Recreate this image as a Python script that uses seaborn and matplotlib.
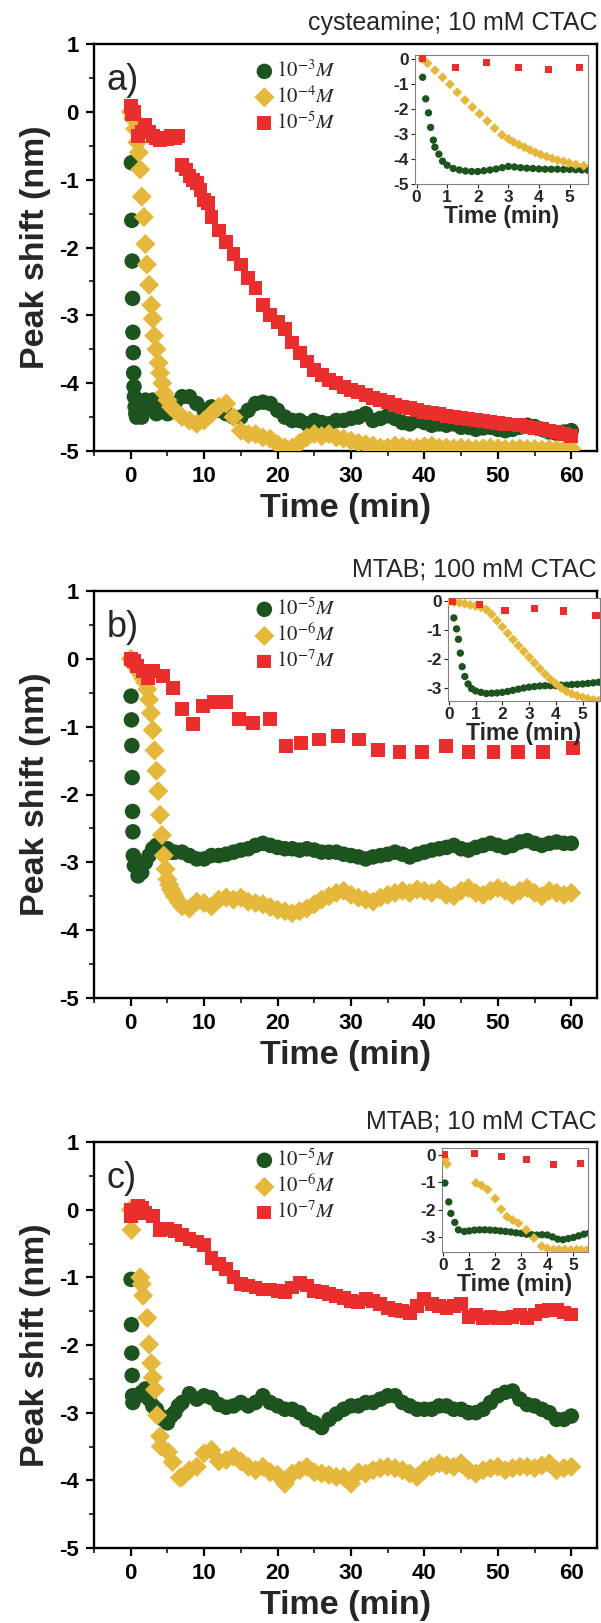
import numpy as np
import pandas as pd
import matplotlib
matplotlib.use("Agg")
import matplotlib.pyplot as plt
from matplotlib.ticker import MultipleLocator
import seaborn as sns

# ---------------------------------------------------------------- data
# Panel a: cysteamine; 10 mM CTAC
a_green_t = [0.1, 0.15, 0.2, 0.25, 0.3, 0.35, 0.4, 0.45, 0.5, 0.6, 0.7, 0.8, 0.9, 1.0, 1.5, 2.0, 2.5,
             3.0, 3.5, 4.0, 4.5, 5.0, 5.5, 6.0] + list(range(7, 61))
a_green_y = [-0.75, -1.6, -2.2, -2.75, -3.25, -3.55, -3.85, -4.05, -4.2, -4.35, -4.45, -4.5, -4.45,
             -4.4, -4.5, -4.25, -4.35, -4.25, -4.45, -4.4, -4.3, -4.45, -4.35, -4.3,
             -4.2, -4.2, -4.3, -4.4, -4.35, -4.4, -4.45, -4.5, -4.5, -4.4, -4.3, -4.28, -4.3, -4.4,
             -4.5, -4.55, -4.55, -4.6, -4.55, -4.58, -4.6, -4.55, -4.55, -4.52, -4.5, -4.45, -4.55,
             -4.52, -4.48, -4.52, -4.58, -4.6, -4.55, -4.58, -4.62, -4.6, -4.62, -4.6, -4.65, -4.65,
             -4.68, -4.66, -4.65, -4.68, -4.7, -4.68, -4.65, -4.62, -4.64, -4.68, -4.72, -4.74,
             -4.72, -4.7]
a_yellow_t = [0.0, 0.3, 0.6, 0.9, 1.1, 1.3, 1.5, 1.8, 2.0, 2.2, 2.5, 2.8, 3.0, 3.2, 3.5, 3.8, 4.0,
              4.3, 4.6, 5.0, 5.5, 6.0] + list(range(7, 61))
a_yellow_y = [0.0, -0.1, -0.25, -0.45, -0.6, -0.85, -1.25, -1.55, -1.95, -2.25, -2.55, -2.85, -3.05,
              -3.3, -3.5, -3.7, -3.85, -4.0, -4.15, -4.25, -4.35, -4.4,
              -4.5, -4.55, -4.6, -4.55, -4.45, -4.35, -4.3, -4.5, -4.7, -4.75, -4.75, -4.8, -4.82,
              -4.9, -4.95, -4.95, -4.88, -4.8, -4.75, -4.78, -4.75, -4.8, -4.82, -4.85, -4.88, -4.9,
              -4.92, -4.95, -4.95, -4.92, -4.93, -4.95, -4.95, -4.93, -4.92, -4.95, -4.95, -4.96,
              -4.95, -4.96, -4.97, -4.96, -4.95, -4.96, -4.97, -4.97, -4.96, -4.97, -4.97, -4.98,
              -4.97, -4.98, -4.98, -4.97]
a_red_t = [0.0, 0.1, 0.5, 1.0, 1.5, 2.0, 2.5, 3.0, 3.5, 4.0, 4.5, 5.0, 5.5, 6.0, 6.5, 7.0, 7.5, 8.0,
           8.5, 9.0, 9.5, 10.0, 10.5, 11.0] + list(range(12, 61))
a_red_y = [0.08, -0.03, 0.0, -0.35, -0.3, -0.2, -0.3, -0.35, -0.38, -0.42, -0.38, -0.4, -0.36, -0.38,
           -0.35, -0.78, -0.85, -0.95, -1.0, -1.05, -1.15, -1.3, -1.35, -1.55,
           -1.75, -1.92, -2.1, -2.25, -2.45, -2.6, -2.85, -3.0, -3.1, -3.2, -3.4, -3.55, -3.68,
           -3.8, -3.88, -3.95, -4.0, -4.05, -4.1, -4.13, -4.18, -4.22, -4.25, -4.28, -4.32, -4.35,
           -4.37, -4.4, -4.42, -4.44, -4.46, -4.48, -4.5, -4.52, -4.53, -4.54, -4.56, -4.57,
           -4.59, -4.6, -4.61, -4.62, -4.64, -4.66, -4.68, -4.7, -4.72, -4.75, -4.78]

# Panel a inset (first minutes)
ai_green_t = [0.2, 0.3, 0.39, 0.46, 0.55, 0.6, 0.73, 0.85, 1.0, 1.2, 1.4, 1.6, 1.8, 2.0, 2.2, 2.4,
              2.6, 2.8, 3.0, 3.2, 3.4, 3.6, 3.8, 4.0, 4.2, 4.4, 4.6, 4.8, 5.0, 5.2, 5.4, 5.6]
ai_green_y = [-0.74, -1.6, -2.16, -2.74, -3.25, -3.53, -3.81, -4.09, -4.25, -4.38, -4.44, -4.48,
              -4.5, -4.5, -4.47, -4.44, -4.4, -4.35, -4.3, -4.32, -4.35, -4.37, -4.38, -4.4,
              -4.41, -4.41, -4.41, -4.42, -4.42, -4.43, -4.44, -4.45]
ai_yellow_t = [0.18, 0.36, 0.6, 0.85, 1.09, 1.33, 1.58, 1.82, 2.06, 2.31, 2.55, 2.79, 3.0, 3.16,
               3.34, 3.52, 3.7, 3.88, 4.06, 4.25, 4.43, 4.61, 4.8, 4.98, 5.2, 5.46]
ai_yellow_y = [0.0, -0.18, -0.46, -0.74, -1.02, -1.34, -1.65, -1.93, -2.2, -2.49, -2.77, -3.04,
               -3.2, -3.32, -3.43, -3.53, -3.64, -3.74, -3.83, -3.91, -3.98, -4.05, -4.1, -4.16,
               -4.22, -4.27]
ai_red_t = [0.2, 1.27, 2.3, 3.34, 4.31, 5.32]
ai_red_y = [0.03, -0.35, -0.14, -0.36, -0.43, -0.36]

# Panel b: MTAB; 100 mM CTAC
b_green_t = [0.05, 0.1, 0.15, 0.2, 0.25, 0.3, 0.35, 0.5, 1.0, 1.5, 2.0, 2.5, 3.0, 3.5, 4.0, 4.5,
             5.0, 5.5, 6.0] + list(range(7, 61))
b_green_y = [-0.55, -0.9, -1.28, -1.75, -2.25, -2.55, -2.9, -3.05, -3.2, -3.15, -3.0, -2.9, -2.8,
             -2.75, -2.75, -2.8, -2.8, -2.85, -2.85,
             -2.85, -2.9, -2.95, -2.95, -2.9, -2.9, -2.88, -2.85, -2.82, -2.8, -2.75, -2.72, -2.75,
             -2.78, -2.8, -2.8, -2.82, -2.8, -2.82, -2.85, -2.85, -2.85, -2.88, -2.9, -2.92, -2.95,
             -2.92, -2.9, -2.88, -2.85, -2.88, -2.92, -2.88, -2.85, -2.82, -2.8, -2.78, -2.75,
             -2.8, -2.82, -2.78, -2.75, -2.72, -2.75, -2.78, -2.75, -2.7, -2.68, -2.72, -2.75,
             -2.72, -2.7, -2.72, -2.72]
b_yellow_t = [0.0, 0.25, 0.5, 0.75, 1.0, 1.25, 1.5, 1.75, 2.0, 2.25, 2.5, 2.75, 3.0, 3.25, 3.5,
              3.75, 4.0, 4.25, 4.5, 4.75, 5.0, 5.25, 5.5, 5.75, 6.0, 6.5] + list(range(7, 61))
b_yellow_y = [0.0, -0.05, -0.1, -0.12, -0.15, -0.2, -0.25, -0.3, -0.35, -0.45, -0.6, -0.8, -1.05,
              -1.35, -1.65, -1.95, -2.3, -2.6, -2.9, -3.1, -3.25, -3.33, -3.4, -3.45, -3.5, -3.58,
              -3.65, -3.68, -3.58, -3.6, -3.65, -3.55, -3.52, -3.55, -3.52, -3.58, -3.6, -3.62,
              -3.66, -3.7, -3.72, -3.75, -3.72, -3.68, -3.62, -3.55, -3.5, -3.45, -3.42, -3.48,
              -3.52, -3.55, -3.58, -3.52, -3.48, -3.45, -3.42, -3.45, -3.4, -3.42, -3.45, -3.4,
              -3.48, -3.5, -3.42, -3.38, -3.45, -3.48, -3.42, -3.38, -3.42, -3.48, -3.42, -3.38,
              -3.45, -3.5, -3.42, -3.45, -3.48, -3.45]
b_red_t = [0.0, 0.4, 0.9, 1.7, 2.3, 3.0, 4.35, 5.7, 7.0, 8.5, 9.9, 11.4, 13.0, 14.8, 16.7, 19.0,
           21.1, 23.2, 25.6, 28.2, 31.1, 33.7, 36.6, 39.7, 42.9, 46.0, 49.4, 52.8, 56.2, 60.2]
b_red_y = [0.0, -0.03, -0.1, -0.18, -0.28, -0.18, -0.25, -0.43, -0.74, -0.96, -0.69, -0.63, -0.63,
           -0.89, -0.94, -0.89, -1.29, -1.24, -1.19, -1.14, -1.19, -1.35, -1.37, -1.37, -1.29,
           -1.37, -1.37, -1.37, -1.37, -1.32]

# Panel b inset
bi_green_t = [0.19, 0.29, 0.36, 0.43, 0.5, 0.6, 0.72, 0.85, 1.0, 1.2, 1.4, 1.6, 1.8, 2.0, 2.2, 2.4,
              2.6, 2.8, 3.0, 3.2, 3.4, 3.6, 3.8, 4.0, 4.2, 4.4, 4.6, 4.8, 5.0, 5.2, 5.4, 5.6]
bi_green_y = [-0.57, -0.95, -1.31, -1.79, -2.26, -2.6, -2.86, -3.02, -3.1, -3.15, -3.19, -3.18,
              -3.17, -3.15, -3.12, -3.08, -3.04, -3.0, -2.97, -2.95, -2.93, -2.92, -2.92, -2.92,
              -2.9, -2.9, -2.88, -2.87, -2.86, -2.84, -2.82, -2.8]
bi_yellow_t = [0.0, 0.2, 0.4, 0.6, 0.8, 1.0, 1.2, 1.4, 1.6, 1.8, 2.0, 2.2, 2.4, 2.6, 2.8, 3.0, 3.2,
               3.4, 3.6, 3.8, 4.0, 4.2, 4.4, 4.6, 4.8, 5.0, 5.2, 5.4, 5.6]
bi_yellow_y = [0.0, -0.03, -0.05, -0.08, -0.12, -0.16, -0.2, -0.28, -0.45, -0.66, -0.88, -1.1,
               -1.32, -1.53, -1.73, -1.93, -2.13, -2.33, -2.52, -2.7, -2.85, -3.0, -3.12, -3.2,
               -3.27, -3.32, -3.37, -3.41, -3.44]
bi_red_t = [0.14, 1.16, 2.1, 3.19, 4.28, 5.5]
bi_red_y = [0.0, -0.12, -0.3, -0.24, -0.33, -0.48]

# Panel c: MTAB; 10 mM CTAC
c_green_t = [0.05, 0.1, 0.15, 0.2, 0.25, 0.3, 0.6, 1.0, 1.5, 2.0, 2.5, 3.0, 3.5, 4.0, 4.5, 5.0, 5.5,
             6.0, 6.5] + list(range(7, 61))
c_green_y = [-1.03, -1.7, -2.12, -2.45, -2.75, -2.85, -2.75, -2.75, -2.7, -2.65, -2.8, -2.9, -2.95,
             -3.05, -3.1, -3.15, -3.05, -3.0, -2.9,
             -2.85, -2.72, -2.8, -2.75, -2.78, -2.88, -2.92, -2.9, -2.85, -2.9, -2.85, -2.75,
             -2.85, -2.9, -2.95, -2.95, -3.0, -3.1, -3.15, -3.22, -3.1, -3.02, -2.95, -2.9, -2.9,
             -2.85, -2.85, -2.8, -2.75, -2.75, -2.85, -2.9, -2.95, -2.95, -2.95, -2.9, -2.9,
             -2.95, -2.95, -3.0, -3.0, -2.95, -2.85, -2.75, -2.7, -2.68, -2.8, -2.88, -2.9,
             -2.95, -3.0, -3.1, -3.1, -3.05]
c_yellow_t = [0.0, 0.1, 1.3, 1.5, 1.7, 2.25, 2.5, 2.8, 3.0, 3.3, 3.6, 4.0, 4.1, 5.1, 5.7,
              6.7] + list(range(7, 61))
c_yellow_y = [0.0, -0.3, -1.0, -1.1, -1.27, -1.6, -1.99, -2.27, -2.48, -2.66, -3.04, -3.35, -3.5,
              -3.58, -3.73, -3.96,
              -3.95, -3.85, -3.8, -3.6, -3.55, -3.72, -3.7, -3.65, -3.72, -3.8, -3.85, -3.8, -3.88,
              -3.92, -4.05, -3.9, -3.85, -3.8, -3.88, -3.9, -3.92, -3.95, -3.95, -4.05, -3.88,
              -3.9, -3.85, -3.82, -3.8, -3.82, -3.85, -3.9, -3.95, -3.85, -3.8, -3.75, -3.78,
              -3.8, -3.75, -3.85, -3.9, -3.85, -3.82, -3.8, -3.85, -3.82, -3.8, -3.8, -3.82,
              -3.78, -3.75, -3.85, -3.82, -3.8]
c_red_t = [0.0, 0.05, 0.5, 1.0, 1.5, 2.0, 3.0] + list(range(4, 61))
c_red_y = [0.0, -0.1, 0.0, 0.05, 0.02, -0.05, -0.1,
           -0.3, -0.28, -0.32, -0.38, -0.43, -0.47, -0.52, -0.72, -0.8, -0.88, -1.0, -1.1,
           -1.12, -1.15, -1.18, -1.18, -1.2, -1.22, -1.15, -1.08, -1.12, -1.2, -1.22, -1.25,
           -1.28, -1.3, -1.35, -1.37, -1.32, -1.35, -1.4, -1.45, -1.48, -1.5, -1.53, -1.42,
           -1.32, -1.4, -1.43, -1.45, -1.42, -1.4, -1.58, -1.55, -1.6, -1.58, -1.6, -1.6,
           -1.58, -1.55, -1.6, -1.55, -1.5, -1.48, -1.48, -1.52, -1.55]

# Panel c inset
ci_green_t = [0.07, 0.22, 0.3, 0.45, 0.59, 0.82, 1.0, 1.2, 1.4, 1.6, 1.8, 2.0, 2.2, 2.4, 2.6, 2.8,
              3.0, 3.2, 3.4, 3.6, 3.8, 4.0, 4.2, 4.4, 4.6, 4.8, 5.0, 5.2, 5.4, 5.6]
ci_green_y = [-1.03, -1.72, -2.14, -2.47, -2.74, -2.8, -2.78, -2.75, -2.74, -2.74, -2.75, -2.76,
              -2.78, -2.8, -2.82, -2.85, -2.87, -2.9, -2.92, -2.93, -2.92, -2.93, -3.0, -3.08,
              -3.1, -3.06, -3.02, -2.96, -2.9, -2.86]
ci_yellow_t = [0.07, 0.15, 1.26, 1.48, 1.71, 2.0, 2.23, 2.45, 2.67, 2.89, 3.19, 3.49, 3.78, 4.0,
               4.23, 4.45, 4.67, 4.9, 5.12, 5.3, 5.49]
ci_yellow_y = [-0.16, -0.34, -1.03, -1.12, -1.27, -1.6, -1.99, -2.26, -2.38, -2.5, -2.74, -3.04,
               -3.34, -3.42, -3.46, -3.46, -3.46, -3.47, -3.46, -3.48, -3.49]
ci_red_t = [0.04, 1.19, 2.23, 3.19, 4.23, 5.27]
ci_red_y = [0.02, 0.05, -0.07, -0.16, -0.34, -0.3]

panel_titles = ["cysteamine; 10 mM CTAC", "MTAB; 100 mM CTAC", "MTAB; 10 mM CTAC"]
panel_letters = ["a)", "b)", "c)"]
legend_labels = [
    [r"$10^{-3}M$", r"$10^{-4}M$", r"$10^{-5}M$"],
    [r"$10^{-5}M$", r"$10^{-6}M$", r"$10^{-7}M$"],
    [r"$10^{-5}M$", r"$10^{-6}M$", r"$10^{-7}M$"],
]
main_xticks = [0, 10, 20, 30, 40, 50, 60]
main_yticks = [1, 0, -1, -2, -3, -4, -5]
inset_xticks = [0, 1, 2, 3, 4, 5]
inset_yticks = [[0, -1, -2, -3, -4, -5], [0, -1, -2, -3], [0, -1, -2, -3]]

# ---------------------------------------------------------------- style
sns.set_style("ticks")
plt.rcParams["font.family"] = ["Liberation Sans", "DejaVu Sans"]
plt.rcParams["mathtext.fontset"] = "stix"
plt.rcParams["axes.unicode_minus"] = False

GREEN = "#1d531f"
YELLOW = "#e5b83c"
RED = "#ea2d2d"
MARKERS = [("o", GREEN), ("D", YELLOW), ("s", RED)]

W, H = 601, 1623
fig = plt.figure(figsize=(W / 100, H / 100), dpi=100)


def rect(x0, y0, x1, y1):
    return [x0 / W, 1 - y1 / H, (x1 - x0) / W, (y1 - y0) / H]


def bold_ticks(ax, xt, yt, size):
    ax.set_xticks(xt)
    ax.set_xticklabels([str(v) for v in xt], fontsize=size, fontweight="bold")
    ax.set_yticks(yt)
    ax.set_yticklabels([str(v) for v in yt], fontsize=size, fontweight="bold")


main_rects = [rect(94, 44, 597, 451), rect(94, 591, 597, 998), rect(94, 1142, 597, 1548)]
inset_rects = [rect(415, 55, 588, 184), rect(448, 598, 600, 701), rect(442, 1148, 588, 1252)]
inset_xlims = [(-0.05, 5.6), (-0.03, 5.65), (-0.04, 5.56)]
inset_ylims = [(-5.0, 0.15), (-3.45, 0.12), (-3.55, 0.25)]
title_base = [30, 577, 1129]
legend_anchor = [(0.318, 0.962), (0.318, 0.985), (0.318, 0.985)]

main_sets = [
    [(a_green_t, a_green_y), (a_yellow_t, a_yellow_y), (a_red_t, a_red_y)],
    [(b_green_t, b_green_y), (b_yellow_t, b_yellow_y), (b_red_t, b_red_y)],
    [(c_green_t, c_green_y), (c_yellow_t, c_yellow_y), (c_red_t, c_red_y)],
]
inset_sets = [
    [(ai_green_t, ai_green_y), (ai_yellow_t, ai_yellow_y), (ai_red_t, ai_red_y)],
    [(bi_green_t, bi_green_y), (bi_yellow_t, bi_yellow_y), (bi_red_t, bi_red_y)],
    [(ci_green_t, ci_green_y), (ci_yellow_t, ci_yellow_y), (ci_red_t, ci_red_y)],
]
main_sizes = [125, 105, 100]
inset_sizes = [28, 26, 26]

for k in range(3):
    ax = fig.add_axes(main_rects[k])
    for (t, y), (mk, col), s, lab in zip(main_sets[k], MARKERS, main_sizes, legend_labels[k]):
        df = pd.DataFrame({"t": t, "y": y})
        sns.scatterplot(data=df, x="t", y="y", ax=ax, marker=mk, s=s, color=col,
                        edgecolor="none", linewidth=0, label=lab, zorder=3)
    bold_ticks(ax, main_xticks, main_yticks, 16)
    ax.set_xlim(-5, 63.5)
    ax.set_ylim(-5, 1)
    ax.xaxis.set_minor_locator(MultipleLocator(5))
    ax.yaxis.set_minor_locator(MultipleLocator(0.5))
    ax.tick_params(which="major", direction="out", length=6, width=1.6, pad=5, colors="black")
    ax.tick_params(which="minor", direction="out", length=3.5, width=1.3)
    for sp in ax.spines.values():
        sp.set_visible(True)
        sp.set_linewidth(1.7)
        sp.set_color("black")
    ax.set_xlabel("Time (min)", fontsize=24.5, fontweight="bold", labelpad=4)
    ax.set_ylabel("Peak shift (nm)", fontsize=24.5, fontweight="bold", labelpad=6)
    ax.text(0.025, 0.91, panel_letters[k], transform=ax.transAxes, fontsize=26,
            ha="left", va="center")
    ax.legend(loc="upper left", bbox_to_anchor=legend_anchor[k], frameon=False,
              prop={"size": 15}, handletextpad=0.05, labelspacing=0.2,
              borderaxespad=0, handlelength=1.0, borderpad=0)
    fig.text(597 / W, 1 - title_base[k] / H, panel_titles[k], ha="right", va="baseline",
             fontsize=18)

    ins = fig.add_axes(inset_rects[k])
    for (t, y), (mk, col), s in zip(inset_sets[k], MARKERS, inset_sizes):
        df = pd.DataFrame({"t": t, "y": y})
        sns.scatterplot(data=df, x="t", y="y", ax=ins, marker=mk, s=s, color=col,
                        edgecolor="none", linewidth=0, legend=False, zorder=3)
    bold_ticks(ins, inset_xticks, inset_yticks[k], 12.5)
    ins.set_xlim(*inset_xlims[k])
    ins.set_ylim(*inset_ylims[k])
    ins.tick_params(which="major", direction="out", length=3, width=0.8, pad=1.5)
    for sp in ins.spines.values():
        sp.set_visible(True)
        sp.set_linewidth(0.8)
        sp.set_color("#808080")
    ins.set_xlabel("Time (min)", fontsize=16.5, fontweight="bold", labelpad=0)
    ins.set_ylabel("")
    ins.set_facecolor("white")

fig.savefig("out.png", dpi=100)
